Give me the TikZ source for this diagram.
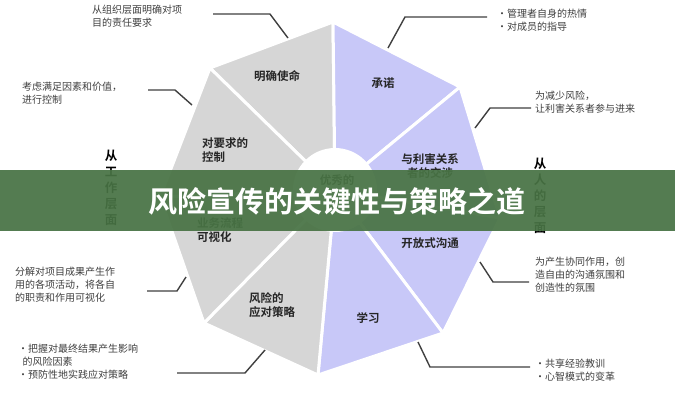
\documentclass[tikz,border=0pt]{standalone}
\usepackage{fontspec}
\setmainfont{Noto Sans CJK SC}
\newfontfamily\cjkb{Noto Sans CJK SC Bold}
\definecolor{segpurple}{RGB}{200,200,248}
\definecolor{seggray}{RGB}{214,214,214}
\definecolor{bannergreen}{RGB}{72,115,68}
\begin{document}
\begin{tikzpicture}[x=1pt,y=-1pt,
  seg/.style={draw=white,line width=3pt,line join=miter},
  grayseg/.style={seg,fill=seggray},
  purpseg/.style={seg,fill=segpurple},
  lab/.style={font=\cjkb\fontsize{11.5}{14}\selectfont,align=center,text=black!85},
  note/.style={font=\fontsize{10}{13}\selectfont,align=left,text=black!75,anchor=north west,inner sep=0pt},
  lead/.style={draw=black!75,line width=1.4pt},
  side/.style={font=\cjkb\fontsize{12.5}{16}\selectfont,align=center,text width=13pt,inner sep=0pt}]
\useasboundingbox (0,0) rectangle (675,400);
\fill[white] (0,0) rectangle (675,400);
\coordinate (O) at (335,190);
\coordinate (A) at (210,68);
\coordinate (B) at (333,22);
\coordinate (C) at (460,87);
\coordinate (D) at (500,218);
\coordinate (E) at (443,333);
\coordinate (F) at (318,375);
\coordinate (G) at (204,323);
\coordinate (H) at (160,197);
\path[grayseg] (O)--(A)--(B)--cycle;
\path[purpseg] (O)--(B)--(C)--cycle;
\path[purpseg] (O)--(C)--(D)--cycle;
\path[purpseg] (O)--(D)--(E)--cycle;
\path[purpseg] (O)--(E)--(F)--cycle;
\path[grayseg] (O)--(F)--(G)--cycle;
\path[grayseg] (O)--(G)--(H)--cycle;
\path[grayseg] (O)--(H)--(A)--cycle;
\node[circle,fill=white,minimum size=84pt] (ctr) at (O) {};
\node[lab] (ctrt) at (337,180) {优秀的};
\node[lab] (l1) at (277,76) {明确使命};
\node[lab] (l2) at (383,83) {承诺};
\node[lab] (l3) at (430,166) {与利害关系\\者的交涉};
\node[lab] (l4) at (430,243) {开放式沟通};
\node[lab] (l5) at (368,318) {学习};
\node[lab,align=left] (l6) at (272,305) {风险的\\应对策略};
\node[lab,align=left] (l7) at (220,230) {业务流程\\可视化};
\node[lab,align=left] (l8) at (225,150) {对要求的\\控制};
\node[note] (n1) at (92,5) {从组织层面明确对项\\目的责任要求};
\coordinate (n1a) at (213,14); \coordinate (n1b) at (270,14); \coordinate (n1c) at (288,38);
\draw[lead] (n1a)--(n1b)--(n1c);
\node[note] (n2) at (22,82) {考虑满足因素和价值，\\进行控制};
\coordinate (n2a) at (148,90); \coordinate (n2b) at (175,90); \coordinate (n2c) at (192,105);
\draw[lead] (n2a)--(n2b)--(n2c);
\node[note] (n3) at (497,9) {·管理者自身的热情\\·对成员的指导};
\coordinate (n3a) at (487,17); \coordinate (n3b) at (405,17); \coordinate (n3c) at (388,48);
\draw[lead] (n3a)--(n3b)--(n3c);
\node[note] (n4) at (535,91) {为减少风险，\\让利害关系者参与进来};
\coordinate (n4a) at (531,108); \coordinate (n4b) at (490,108); \coordinate (n4c) at (475,128);
\draw[lead] (n4a)--(n4b)--(n4c);
\node[note] (n5) at (535,257) {为产生协同作用，创\\造自由的沟通氛围和\\创造性的氛围};
\coordinate (n5a) at (529,282); \coordinate (n5b) at (493,282); \coordinate (n5c) at (480,262);
\draw[lead] (n5a)--(n5b)--(n5c);
\node[note] (n6) at (15,267) {分解对项目成果产生作\\用的各项活动，将各自\\的职责和作用可视化};
\coordinate (n6a) at (147,291); \coordinate (n6b) at (177,291); \coordinate (n6c) at (186,277);
\draw[lead] (n6a)--(n6b)--(n6c);
\node[note] (n7) at (18,344) {·把握对最终结果产生影响\\\ \ 的风险因素\\·预防性地实践应对策略};
\coordinate (n7a) at (177,373); \coordinate (n7b) at (245,373); \coordinate (n7c) at (265,350);
\draw[lead] (n7a)--(n7b)--(n7c);
\node[note] (n8) at (535,359) {·共享经验教训\\·心智模式的变革};
\coordinate (n8a) at (530,367); \coordinate (n8b) at (430,367); \coordinate (n8c) at (418,342);
\draw[lead] (n8a)--(n8b)--(n8c);
\node[side,anchor=north] (s1) at (111,150) {从\\工\\作\\层\\面};
\node[side,anchor=north] (s2) at (540,158) {从\\人\\的\\层\\面};
\fill[fill=bannergreen,opacity=0.93] (0,170) rectangle (675,231);
\node[font=\cjkb\fontsize{29}{31}\selectfont,text=white] (title) at (337,201) {风险宣传的关键性与策略之道};
\end{tikzpicture}
\end{document}
